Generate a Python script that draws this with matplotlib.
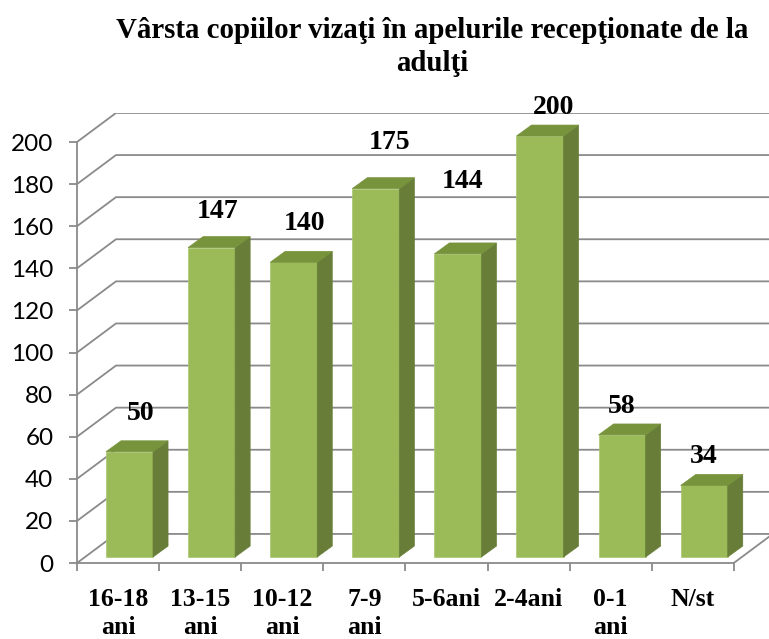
import matplotlib
matplotlib.use('Agg')
import matplotlib.pyplot as plt
from matplotlib.patches import Polygon

# chart data
categories = ['16-18\nani', '13-15\nani', '10-12\nani', '7-9\nani',
              '5-6ani', '2-4ani', '0-1\nani', 'N/st']
values = [50, 147, 140, 175, 144, 200, 58, 34]
yticks = list(range(0, 201, 20))
title = 'Vârsta copiilor vizaţi în apelurile recepţionate de la\nadulţi'

# label nudges (pixels) to sit where the original put them
label_dx = [11, 6, 11, 14, 5, 14, 0, 0]
label_dy = [27, 25, 28, 35, 61, 18, 17, 18]

FRONT = '#9bbb59'
SIDE = '#687e38'
TOP = '#77933c'
GRID = '#8a8a8a'

# fake 3d geometry, in data units
WALL_DX, WALL_DY = 0.475, 13.8      # depth of the back wall
BAR_X0, BAR_W = 0.353, 0.573        # bar front face inside its slot
BAR_BASE = 2.85
BAR_DX, BAR_DY = 0.183, 5.2         # bar depth

W, H = 769, 639
fig = plt.figure(figsize=(W / 100, H / 100), dpi=100)
ax = fig.add_axes([77 / W, 76 / H, (W - 77) / W, 450 / H])
ax.set_xlim(0, (W - 77) / 82.1)
ax.set_ylim(0, 450 / 2.105)
ax.patch.set_alpha(0)

n = len(values)
# back wall gridlines
for v in yticks:
    ax.plot([0, WALL_DX, n + WALL_DX], [v, v + WALL_DY, v + WALL_DY],
            color=GRID, lw=1.3, zorder=1, solid_capstyle='butt')
ax.plot([n, n + WALL_DX], [0, WALL_DY], color=GRID, lw=1.3, zorder=1)

# bars
for i, v in enumerate(values):
    x0 = i + BAR_X0
    x1 = x0 + BAR_W
    y0 = BAR_BASE
    y1 = BAR_BASE + v
    front = Polygon([(x0, y0), (x1, y0), (x1, y1), (x0, y1)], closed=True,
                    facecolor=FRONT, edgecolor='#a9c670', lw=0.5, zorder=3)
    side = Polygon([(x1, y0), (x1 + BAR_DX, y0 + BAR_DY),
                    (x1 + BAR_DX, y1 + BAR_DY), (x1, y1)], closed=True,
                   facecolor=SIDE, edgecolor=SIDE, lw=0.5, zorder=3)
    top = Polygon([(x0, y1), (x1, y1), (x1 + BAR_DX, y1 + BAR_DY),
                   (x0 + BAR_DX, y1 + BAR_DY)], closed=True,
                  facecolor=TOP, edgecolor=TOP, lw=0.5, zorder=3)
    for p in (front, side, top):
        ax.add_patch(p)
    ax.annotate(str(v), xy=((x0 + x1) / 2, y1 + BAR_DY),
                xytext=(label_dx[i], label_dy[i]), textcoords='offset pixels',
                ha='center', va='center', fontsize=20, fontweight='bold',
                family='Liberation Serif', zorder=5)

# axes styling
for s in ('top', 'right'):
    ax.spines[s].set_visible(False)
ax.spines['left'].set_bounds(0, 200)
ax.spines['bottom'].set_bounds(0, n)
for s in ('left', 'bottom'):
    ax.spines[s].set_color(GRID)
    ax.spines[s].set_linewidth(1.3)
    ax.spines[s].set_zorder(2)

ax.set_yticks(yticks)
ax.tick_params(axis='y', direction='out', length=6, width=1.3, color=GRID,
               pad=11, labelsize=17.5)
for lab in ax.get_yticklabels():
    lab.set_family('Lato')

ax.set_xticks(range(n + 1))
ax.set_xticklabels([])
ax.set_xticks([i + 0.5 for i in range(n)], minor=True)
ax.set_xticklabels(categories, minor=True, fontsize=18.5, fontweight='bold',
                   family='Liberation Serif', linespacing=1.3)
ax.tick_params(axis='x', which='major', direction='out', length=6, width=1.3,
               color=GRID)
ax.tick_params(axis='x', which='minor', length=0, pad=18)

fig.text(432 / W, 1 - 47 / H, title, ha='center', va='center', fontsize=20.8,
         fontweight='bold', family='Liberation Serif', linespacing=1.25)

fig.savefig('out.png', dpi=100)
